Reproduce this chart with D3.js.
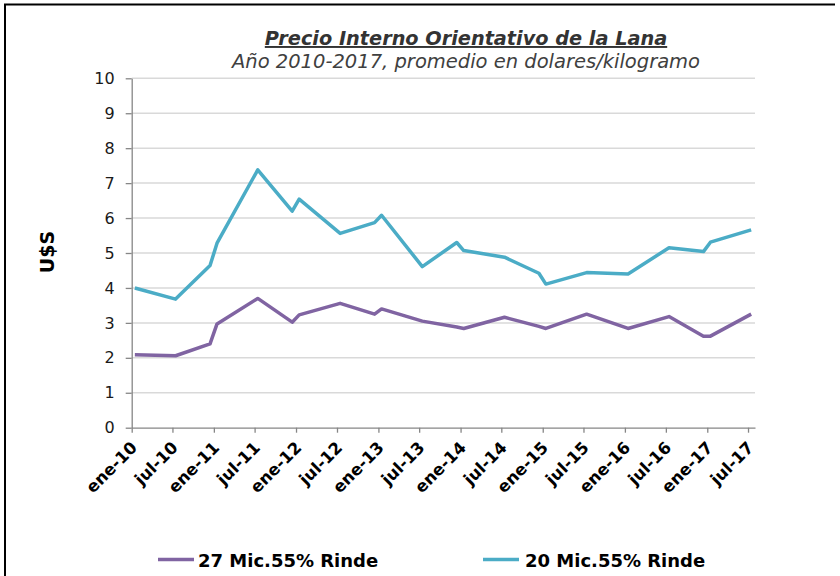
<!DOCTYPE html>
<html>
<head>
<meta charset="utf-8">
<script src="https://cdn.jsdelivr.net/npm/d3@7"></script>
<style>
  html, body { margin: 0; padding: 0; background: #fff; }
  svg { display: block; font-family: "DejaVu Sans", Verdana, sans-serif; }
</style>
</head>
<body>
<svg id="chart" width="840" height="576"></svg>
<script>
// ---- Data ----
const dates = ["2010-01-15","2010-07-15","2010-12-15","2011-01-15","2011-07-15","2011-12-15",
               "2012-01-15","2012-07-15","2012-12-15","2013-01-15","2013-07-15","2013-12-15",
               "2014-01-15","2014-07-15","2014-12-15","2015-01-15","2015-07-15","2016-01-15",
               "2016-07-15","2016-12-15","2017-01-15","2017-07-15"];
const mic27 = [2.09,2.06,2.40,2.97,3.70,3.02,3.23,3.56,3.25,3.40,3.05,2.88,
               2.84,3.16,2.90,2.84,3.25,2.84,3.18,2.62,2.62,3.25];
const mic20 = [4.00,3.68,4.64,5.28,7.38,6.20,6.54,5.56,5.87,6.08,4.61,5.30,
               5.07,4.88,4.42,4.11,4.44,4.40,5.15,5.04,5.31,5.66];
const seriesNames = ["27 Mic.55% Rinde","20 Mic.55% Rinde"];
const seriesColors = ["#8064a2","#4bacc6"];
const tickDates = ["2010-01-01","2010-07-01","2011-01-01","2011-07-01","2012-01-01","2012-07-01",
                   "2013-01-01","2013-07-01","2014-01-01","2014-07-01","2015-01-01","2015-07-01",
                   "2016-01-01","2016-07-01","2017-01-01","2017-07-01"];
const tickLabels = ["ene-10","jul-10","ene-11","jul-11","ene-12","jul-12","ene-13","jul-13",
                    "ene-14","jul-14","ene-15","jul-15","ene-16","jul-16","ene-17","jul-17"];
const yTicks = [0,1,2,3,4,5,6,7,8,9,10];
const titleText = "Precio Interno Orientativo de la Lana";
const subtitleText = "Año 2010-2017, promedio en dolares/kilogramo";
const yTitle = "U$S";

// ---- Layout ----
const parse = d3.utcParse("%Y-%m-%d");
const svg = d3.select("#chart");
const plotL = 131.7, plotR = 755, plotT = 78.3, plotB = 427.7;

const x = d3.scaleUtc()
  .domain([parse("2010-01-01"), parse("2017-08-01")])
  .range([plotL, plotR]);
const y = d3.scaleLinear().domain([0, 10]).range([plotB, plotT]);

// frame (top + left edges)
svg.append("path")
  .attr("d", `M5,576 L5,4.5 L835,4.5`)
  .attr("fill", "none").attr("stroke", "#000").attr("stroke-width", 2);

// gridlines
svg.append("g").selectAll("line").data(yTicks.filter(d => d > 0)).join("line")
  .attr("x1", plotL).attr("x2", plotR)
  .attr("y1", d => y(d)).attr("y2", d => y(d))
  .attr("stroke", "#d9d9d9").attr("stroke-width", 1.5);

// y axis
const yAxis = svg.append("g")
  .attr("transform", `translate(${plotL},0)`)
  .call(d3.axisLeft(y).tickValues(yTicks).tickSize(6).tickPadding(11).tickSizeOuter(0));
yAxis.select(".domain").attr("stroke", "#868686").attr("stroke-width", 1.3);
yAxis.selectAll(".tick line").attr("stroke", "#868686").attr("stroke-width", 1.3);
yAxis.selectAll(".tick text")
  .attr("font-size", 16).attr("fill", "#1a1a1a")
  .attr("font-family", "'DejaVu Sans', Verdana, sans-serif");

// x axis
const xAxis = svg.append("g")
  .attr("transform", `translate(0,${plotB})`)
  .call(d3.axisBottom(x)
    .tickValues(tickDates.map(parse))
    .tickFormat((d, i) => tickLabels[i])
    .tickSize(5).tickSizeOuter(0));
xAxis.select(".domain").attr("stroke", "#868686").attr("stroke-width", 1.3);
xAxis.selectAll(".tick line").attr("stroke", "#868686").attr("stroke-width", 1.3);
xAxis.selectAll(".tick text")
  .attr("font-size", 16.5).attr("font-weight", "bold").attr("fill", "#000")
  .attr("font-family", "'DejaVu Sans', Verdana, sans-serif")
  .attr("text-anchor", "end")
  .attr("dy", null).attr("y", 0)
  .attr("transform", "translate(6,21) rotate(-45)");

// lines
const rows = dates.map((d, i) => ({ date: parse(d), v27: mic27[i], v20: mic20[i] }));
const line27 = d3.line().x(d => x(d.date)).y(d => y(d.v27));
const line20 = d3.line().x(d => x(d.date)).y(d => y(d.v20));
svg.append("path").datum(rows).attr("d", line27)
  .attr("fill", "none").attr("stroke", seriesColors[0]).attr("stroke-width", 3.5)
  .attr("stroke-linejoin", "round");
svg.append("path").datum(rows).attr("d", line20)
  .attr("fill", "none").attr("stroke", seriesColors[1]).attr("stroke-width", 3.5)
  .attr("stroke-linejoin", "round");

// titles
svg.append("text")
  .attr("x", 466).attr("y", 45).attr("text-anchor", "middle")
  .attr("font-size", 19.3).attr("font-weight", "bold").attr("font-style", "italic")
  .attr("fill", "#333").attr("text-decoration", "underline")
  .text(titleText);
svg.append("text")
  .attr("x", 466).attr("y", 68).attr("text-anchor", "middle")
  .attr("font-size", 19.5).attr("font-style", "italic")
  .attr("fill", "#404040")
  .text(subtitleText);

// y axis title
svg.append("text")
  .attr("transform", "translate(54,252) rotate(-90)")
  .attr("text-anchor", "middle")
  .attr("font-size", 19).attr("font-weight", "bold").attr("fill", "#000")
  .text(yTitle);

// legend
const legendPos = [{ sx: 158, tx: 198 }, { sx: 483, tx: 525 }];
const leg = svg.append("g").selectAll("g").data(seriesNames).join("g");
leg.append("line")
  .attr("x1", (d, i) => legendPos[i].sx).attr("x2", (d, i) => legendPos[i].sx + 36)
  .attr("y1", 559.5).attr("y2", 559.5)
  .attr("stroke", (d, i) => seriesColors[i]).attr("stroke-width", 3.5);
leg.append("text")
  .attr("x", (d, i) => legendPos[i].tx).attr("y", 566.5)
  .attr("font-size", 18).attr("font-weight", "bold").attr("fill", "#000")
  .text(d => d);
</script>
</body>
</html>
